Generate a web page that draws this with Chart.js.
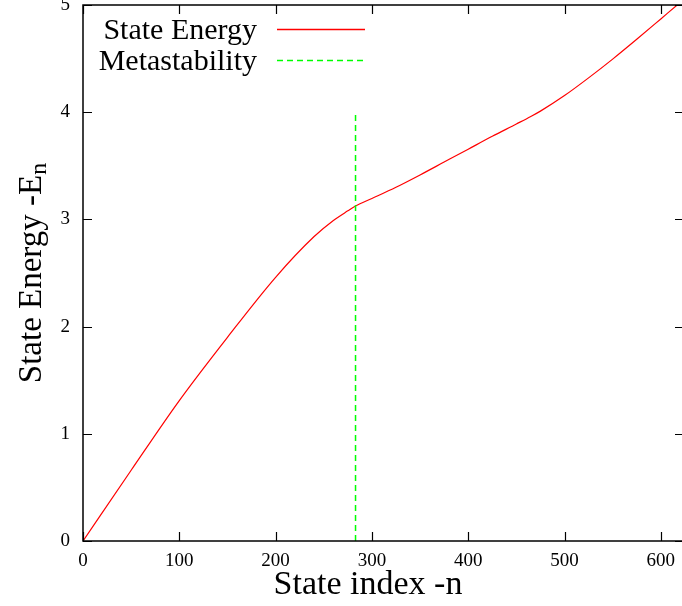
<!DOCTYPE html>
<html>
<head>
<meta charset="utf-8">
<script src="https://cdn.jsdelivr.net/npm/chart.js@4"></script>
<style>
html, body { margin: 0; padding: 0; background: #fff; }
#wrap { width: 682px; height: 606px; }
</style>
</head>
<body>
<div id="wrap"><canvas id="grafico"></canvas></div>
<script>
// datos
const estadoN = [0, 50, 100, 150, 200, 240, 260, 275, 283,
    300, 325, 350, 375, 400, 425, 450, 465, 475, 500, 525, 550, 575, 600, 617, 625];
const energia = [0, 0.66, 1.31, 1.9, 2.46, 2.84, 2.99, 3.08, 3.125,
    3.195, 3.3, 3.415, 3.535, 3.655, 3.775, 3.89, 3.96, 4.01, 4.155, 4.32, 4.495, 4.68, 4.87, 5.0, 5.06];
const metaN = [283, 283];
const metaE = [0, 4];
const xTicks = [0, 100, 200, 300, 400, 500, 600];
const yTicks = [0, 1, 2, 3, 4, 5];

const FUENTE = "'Liberation Serif', 'Times New Roman', serif";

// bordes, marcas hacia dentro, leyenda y titulos al estilo gnuplot
const estiloGnuplot = {
    id: "estiloGnuplot",
    afterDraw(chart) {
        const { ctx, chartArea: a, scales } = chart;
        const tl = 9;
        // el borde derecho queda justo fuera del lienzo, como en la figura
        const derecha = a.right + 2;
        ctx.save();
        ctx.strokeStyle = "#000";
        ctx.lineWidth = 1.5;
        ctx.strokeRect(a.left, a.top, derecha - a.left, a.bottom - a.top);

        ctx.lineWidth = 1.2;
        ctx.beginPath();
        xTicks.forEach(v => {
            const px = Math.round(scales.x.getPixelForValue(v)) + 0.5;
            ctx.moveTo(px, a.bottom); ctx.lineTo(px, a.bottom - tl);
            ctx.moveTo(px, a.top); ctx.lineTo(px, a.top + tl);
        });
        yTicks.forEach(v => {
            const py = Math.round(scales.y.getPixelForValue(v)) + 0.5;
            ctx.moveTo(a.left, py); ctx.lineTo(a.left + tl, py);
            ctx.moveTo(derecha, py); ctx.lineTo(derecha - tl, py);
        });
        ctx.stroke();

        // leyenda: texto a la izquierda, muestra de linea a la derecha
        ctx.font = "30px " + FUENTE;
        ctx.fillStyle = "#000";
        ctx.textAlign = "right";
        ctx.textBaseline = "middle";
        chart.data.datasets.forEach((ds, i) => {
            const y = 31 + i * 31;
            ctx.fillText(ds.label, 257, y);
            ctx.strokeStyle = ds.borderColor;
            ctx.lineWidth = 1.4;
            ctx.setLineDash(ds.borderDash || []);
            ctx.beginPath();
            ctx.moveTo(277, y - 1.5); ctx.lineTo(365, y - 1.5);
            ctx.stroke();
            ctx.setLineDash([]);
        });

        // titulo del eje x
        ctx.font = "34px " + FUENTE;
        ctx.textAlign = "center";
        ctx.fillText("State index -n", 368, 585);

        // titulo del eje y con subindice
        const principal = "State Energy -E";
        ctx.translate(32, (a.top + a.bottom) / 2);
        ctx.rotate(-Math.PI / 2);
        ctx.font = "33px " + FUENTE;
        const w1 = ctx.measureText(principal).width;
        ctx.font = "24px " + FUENTE;
        const w2 = ctx.measureText("n").width;
        const x0 = -(w1 + w2) / 2;
        ctx.textAlign = "left";
        ctx.font = "33px " + FUENTE;
        ctx.fillText(principal, x0, 0);
        ctx.font = "24px " + FUENTE;
        ctx.fillText("n", x0 + w1, 8);
        ctx.restore();
    }
};

const ctx = document.getElementById("grafico").getContext("2d");
const grafico = new Chart(ctx, {
    type: "scatter",
    data: {
        datasets: [
            {
                label: "State Energy",
                data: estadoN.map((n, i) => ({ x: n, y: energia[i] })),
                showLine: true,
                borderColor: "#ff0000",
                borderWidth: 1.2,
                pointRadius: 0,
                cubicInterpolationMode: "monotone",
                order: 1
            },
            {
                label: "Metastability",
                data: metaN.map((n, i) => ({ x: n, y: metaE[i] })),
                showLine: true,
                borderColor: "#00ff00",
                borderWidth: 1.5,
                borderDash: [6, 4],
                pointRadius: 0,
                order: 0
            }
        ]
    },
    options: {
        responsive: true,
        maintainAspectRatio: false,
        animation: false,
        layout: { padding: { top: 5, right: 0, left: 0, bottom: 0 } },
        plugins: { legend: { display: false }, tooltip: { enabled: false } },
        scales: {
            x: {
                type: "linear",
                min: 0,
                max: 622,
                grid: { display: false, drawTicks: false },
                border: { display: false },
                afterBuildTicks: s => { s.ticks = xTicks.map(v => ({ value: v })); },
                afterFit: s => { s.height = 65; s.paddingLeft = 0; s.paddingRight = 0; },
                ticks: { color: "#000", padding: 9, font: { family: FUENTE, size: 19 } }
            },
            y: {
                type: "linear",
                min: 0,
                max: 5,
                grid: { display: false, drawTicks: false },
                border: { display: false },
                afterBuildTicks: s => { s.ticks = yTicks.map(v => ({ value: v })); },
                afterFit: s => { s.width = 83; s.paddingTop = 0; s.paddingBottom = 0; },
                ticks: { color: "#000", padding: 13, font: { family: FUENTE, size: 19 } }
            }
        }
    },
    plugins: [estiloGnuplot]
});
</script>
</body>
</html>
